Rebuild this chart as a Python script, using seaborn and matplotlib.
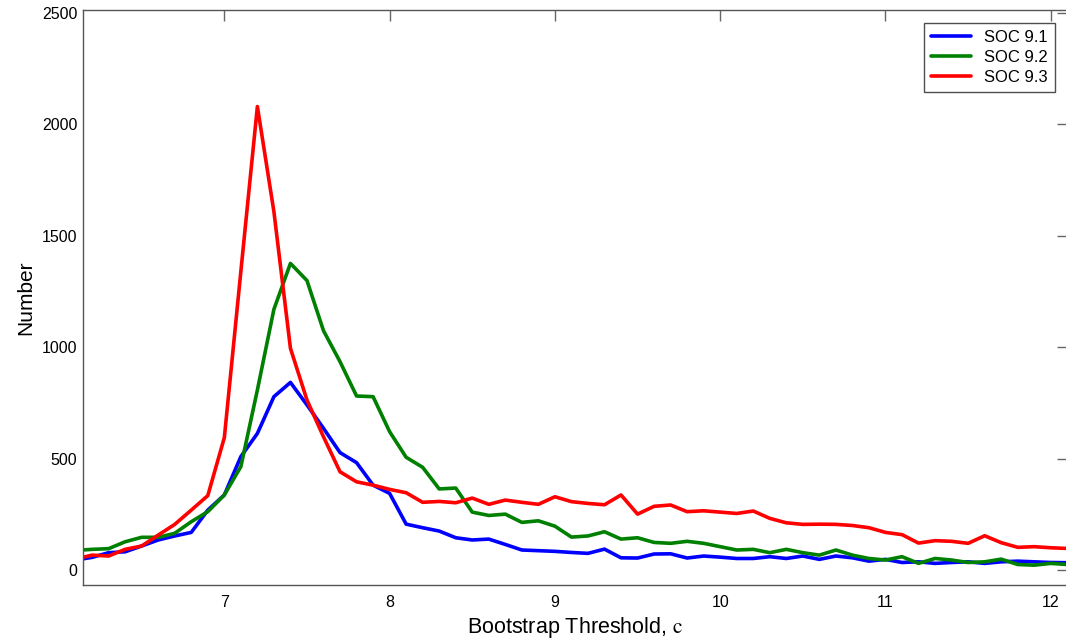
import numpy as np
import pandas as pd
import matplotlib
matplotlib.use("Agg")
import matplotlib.pyplot as plt
import seaborn as sns

thresholds = [round(6.1 + 0.1 * i, 1) for i in range(61)]

soc_91 = [45, 57, 78, 82, 108, 135, 153, 169, 269, 337,
          509, 613, 778, 842, 741, 636, 527, 482, 381, 344,
          206, 190, 175, 145, 135, 139, 115, 90, 87, 84,
          79, 75, 94, 55, 54, 72, 73, 54, 63, 58,
          52, 52, 60, 52, 63, 48, 63, 55, 40, 48,
          34, 37, 30, 34, 37, 30, 37, 40, 37, 34, 33]

soc_92 = [88, 93, 96, 127, 147, 147, 165, 217, 262, 337,
          464, 808, 1170, 1376, 1299, 1074, 935, 781, 778, 621,
          506, 461, 364, 368, 260, 245, 251, 214, 221, 197,
          148, 153, 172, 139, 145, 124, 120, 129, 120, 105,
          90, 93, 78, 93, 78, 67, 90, 67, 52, 45,
          60, 30, 52, 45, 34, 37, 49, 25, 22, 30, 25]

soc_93 = [50, 67, 63, 93, 108, 157, 205, 269, 334, 594,
          1340, 2080, 1608, 995, 763, 598, 441, 396, 381, 362,
          347, 304, 308, 302, 323, 295, 314, 304, 295, 329,
          307, 299, 293, 337, 251, 286, 292, 262, 266, 260,
          254, 265, 232, 212, 205, 206, 205, 200, 190, 169,
          159, 121, 132, 129, 120, 154, 123, 102, 105, 100, 97]

series_names = ["SOC 9.1", "SOC 9.2", "SOC 9.3"]
series_colors = ["#0000ff", "#008000", "#ff0000"]

df = pd.DataFrame({
    "threshold": thresholds * 3,
    "number": soc_91 + soc_92 + soc_93,
    "series": [series_names[0]] * len(thresholds)
              + [series_names[1]] * len(thresholds)
              + [series_names[2]] * len(thresholds),
})

sns.set_style("white")
plt.rcParams["font.family"] = ["Liberation Sans", "DejaVu Sans"]
plt.rcParams["mathtext.fontset"] = "stix"
plt.rcParams["text.color"] = "black"
plt.rcParams["axes.labelcolor"] = "black"
plt.rcParams["xtick.color"] = "#666666"
plt.rcParams["ytick.color"] = "#666666"

fig = plt.figure(figsize=(10.66, 6.4), dpi=100)
ax = fig.add_axes([83 / 1066, 1 - 585 / 640, 1 - 83 / 1066 + 0.002, (585 - 10) / 640])

sns.lineplot(data=df, x="threshold", y="number", hue="series",
             palette=dict(zip(series_names, series_colors)),
             linewidth=2.6, ax=ax, legend=True)

ax.set_xlim(6.145, 12.105)
ax.set_ylim(-67, 2513)
ax.set_xticks([7, 8, 9, 10, 11, 12])
ax.set_yticks([0, 500, 1000, 1500, 2000, 2500])
ax.tick_params(direction="in", length=8, width=1, color="#666666",
               labelsize=11.5, labelcolor="black", top=True, right=True)
ax.tick_params(axis="y", pad=4)
ax.tick_params(axis="x", pad=7)
for s in ax.spines.values():
    s.set_color("#555555")
    s.set_linewidth(1.0)

ax.set_xlabel("Bootstrap Threshold, $\\mathrm{c}$", fontsize=15.5, labelpad=4)
ax.set_ylabel("Number", fontsize=15, labelpad=5)

leg = ax.legend(loc="upper right", fontsize=12, frameon=True, fancybox=False,
                edgecolor="#222222", borderaxespad=0.8, handlelength=2.4,
                labelspacing=0.3, borderpad=0.4)
leg.get_frame().set_linewidth(1.0)
for line in leg.get_lines():
    line.set_linewidth(2.6)

fig.savefig("out.png", dpi=100)
